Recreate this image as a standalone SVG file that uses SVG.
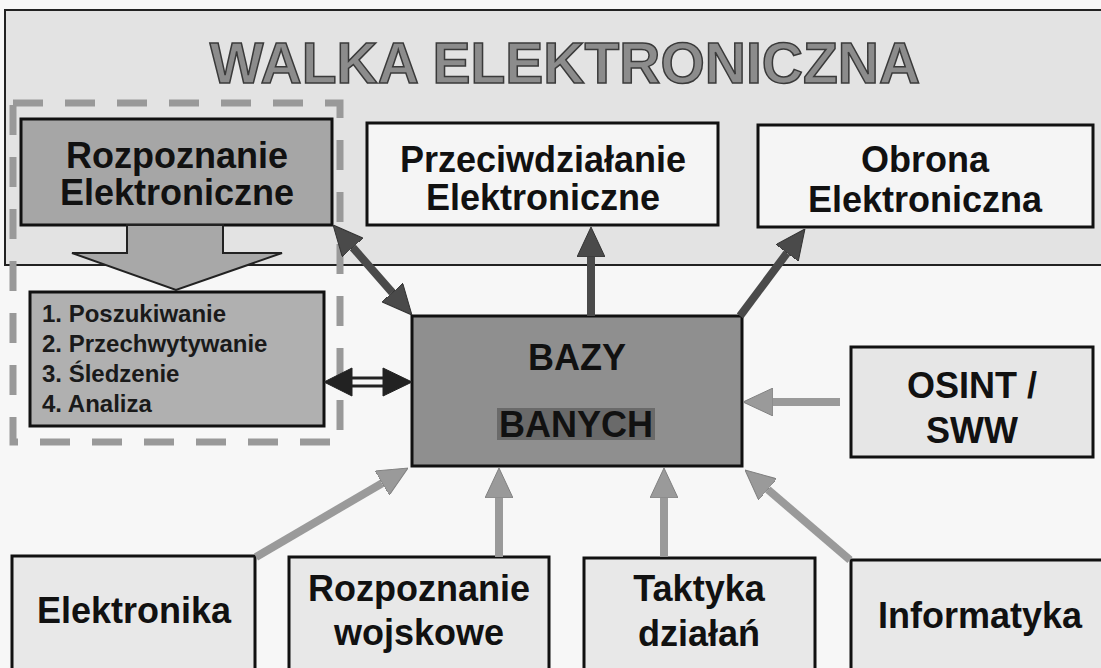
<svg xmlns="http://www.w3.org/2000/svg" width="1101" height="668" viewBox="0 0 1101 668">
<defs>
<style>
.lbl{font-family:"Liberation Sans",Arial,sans-serif;font-weight:bold;font-size:36px;fill:#111;text-anchor:middle}
.lst{font-family:"Liberation Sans",Arial,sans-serif;font-weight:bold;font-size:24px;fill:#1a1a1a}
.box{stroke:#111;stroke-width:3}
.gray{stroke:#9a9a9a;stroke-width:8;fill:none}
.dark{stroke:#4a4a4a;stroke-width:8;fill:none}
</style>
<marker id="hg" viewBox="0 0 30 28" refX="0" refY="14" markerWidth="30" markerHeight="28" markerUnits="userSpaceOnUse" orient="auto-start-reverse">
<path d="M0,0 L30,14 L0,28 Z" fill="#9a9a9a" stroke="#808080" stroke-width="1"/>
</marker>
<marker id="hd" viewBox="0 0 30 28" refX="0" refY="14" markerWidth="30" markerHeight="28" markerUnits="userSpaceOnUse" orient="auto-start-reverse">
<path d="M0,0 L30,14 L0,28 Z" fill="#4a4a4a" stroke="#333" stroke-width="1"/>
</marker>
</defs>
<rect x="0" y="0" width="1101" height="668" fill="#f7f7f7"/>
<g id="banner">
<rect x="5" y="10" width="1100" height="255" fill="#e3e3e3" stroke="#222" stroke-width="2"/>
<text x="565" y="83" font-family="'Liberation Sans',Arial,sans-serif" font-weight="bold" font-size="57" text-anchor="middle" fill="#8c8c8c" stroke="#3a3a3a" stroke-width="1.5">WALKA ELEKTRONICZNA</text>
</g>
<g id="dashed-group">
<rect x="13" y="103" width="327" height="339" fill="none" stroke="#999" stroke-width="7" stroke-dasharray="30 22"/>
</g>
<g id="rozpoznanie-elektroniczne">
<rect class="box" x="21" y="119" width="311" height="106" fill="#a6a6a6"/>
<text class="lbl" x="177" y="168">Rozpoznanie</text>
<text class="lbl" x="177" y="205">Elektroniczne</text>
</g>
<g id="down-arrow">
<path d="M127,225 L223,225 L223,253 L282,253 L176,290 L72,253 L127,253 Z" fill="#a8a8a8" stroke="#222" stroke-width="2"/>
</g>
<g id="przeciwdzialanie">
<rect class="box" x="367" y="123" width="351" height="102" fill="#f5f5f5"/>
<text class="lbl" x="543" y="172">Przeciwdziałanie</text>
<text class="lbl" x="543" y="210">Elektroniczne</text>
</g>
<g id="obrona">
<rect class="box" x="758" y="125" width="335" height="102" fill="#f5f5f5"/>
<text class="lbl" x="925" y="172">Obrona</text>
<text class="lbl" x="925" y="212">Elektroniczna</text>
</g>
<g id="etapy">
<rect class="box" x="30" y="292" width="294" height="134" fill="#b0b0b0"/>
<text class="lst" x="42" y="322">1. Poszukiwanie</text>
<text class="lst" x="42" y="352">2. Przechwytywanie</text>
<text class="lst" x="42" y="382">3. Śledzenie</text>
<text class="lst" x="42" y="412">4. Analiza</text>
</g>
<g id="bazy-danych">
<rect class="box" x="412" y="316" width="330" height="150" fill="#8f8f8f"/>
<text class="lbl" x="577" y="370">BAZY</text>
<rect x="497" y="408" width="158" height="32" fill="#6a6a6a"/>
<text class="lbl" x="576" y="437" fill="#1a1a1a">BANYCH</text>
</g>
<g id="osint">
<rect class="box" x="851" y="347" width="242" height="110" fill="#e6e6e6"/>
<text class="lbl" x="972" y="398">OSINT /</text>
<text class="lbl" x="972" y="443">SWW</text>
</g>
<g id="elektronika">
<rect class="box" x="12" y="556" width="243" height="114" fill="#e8e8e8"/>
<text class="lbl" x="134" y="623">Elektronika</text>
</g>
<g id="rozpoznanie-wojskowe">
<rect class="box" x="289" y="557" width="260" height="113" fill="#e8e8e8"/>
<text class="lbl" x="419" y="601">Rozpoznanie</text>
<text class="lbl" x="419" y="645">wojskowe</text>
</g>
<g id="taktyka">
<rect class="box" x="584" y="558" width="231" height="112" fill="#e8e8e8"/>
<text class="lbl" x="699" y="601">Taktyka</text>
<text class="lbl" x="699" y="646">działań</text>
</g>
<g id="informatyka">
<rect class="box" x="851" y="560" width="254" height="110" fill="#e8e8e8"/>
<text class="lbl" x="980" y="628">Informatyka</text>
</g>
<g id="connectors">
<line class="dark" x1="352.8" y1="247.5" x2="392.2" y2="292.5" marker-start="url(#hd)" marker-end="url(#hd)"/>
<line class="dark" x1="591" y1="316" x2="591" y2="257" marker-end="url(#hd)"/>
<line class="dark" x1="740" y1="316" x2="787" y2="253" marker-end="url(#hd)"/>
<line class="gray" x1="840" y1="402" x2="773" y2="402" marker-end="url(#hg)"/>
<line class="gray" x1="256" y1="557" x2="382.1" y2="483.2" marker-end="url(#hg)"/>
<line class="gray" x1="499" y1="557" x2="499" y2="498" marker-end="url(#hg)"/>
<line class="gray" x1="664" y1="557" x2="664" y2="498" marker-end="url(#hg)"/>
<line class="gray" x1="850" y1="560" x2="767.8" y2="489.5" marker-end="url(#hg)"/>
<g fill="#222" stroke="#222">
<line x1="348" y1="378" x2="385" y2="378" stroke-width="3"/>
<line x1="348" y1="386" x2="385" y2="386" stroke-width="3"/>
<path d="M324,382 L352,368 L352,396 Z"/>
<path d="M412,382 L383,368 L383,396 Z"/>
</g>
</g>
</svg>
